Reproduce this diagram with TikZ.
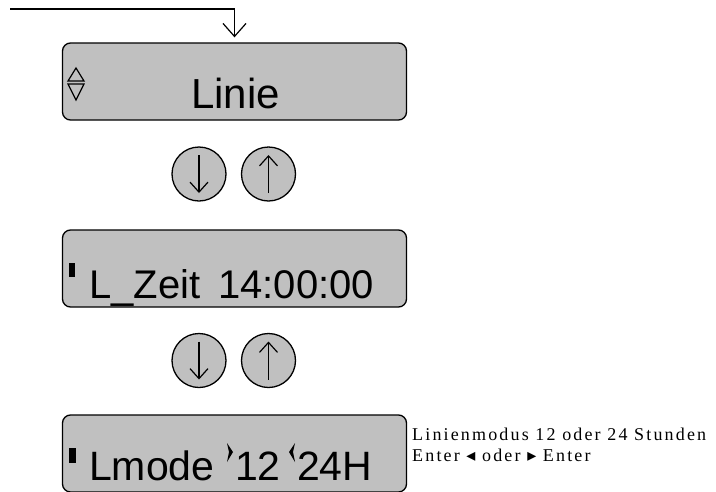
\documentclass[tikz,border=0pt]{standalone}
\usepackage{fontspec}
\setmainfont{Liberation Sans}
\newfontfamily\notefont[LetterSpace=12]{Liberation Serif}
\newfontfamily\symfont{DejaVu Sans}
\usetikzlibrary{arrows.meta}
\tikzset{
  display/.style={draw, line width=1.3pt, fill=lcdgray, rounded corners=8pt, minimum width=344pt, minimum height=77pt, inner sep=0pt},
  lcdtext/.style={anchor=base west, inner sep=0pt, font=\fontsize{41}{41}\selectfont},
  notetext/.style={anchor=base west, inner sep=0pt, font=\notefont\fontsize{18}{21}\selectfont},
  keybtn/.style={circle, draw, line width=1.3pt, fill=lcdgray, minimum size=54pt, inner sep=0pt},
  keyarrow/.style={line width=1.2pt, -{Straight Barb[length=10pt, width=18pt, line width=1.2pt]}},
  cursor/.style={fill=black, draw=none},
}
\definecolor{lcdgray}{RGB}{192,192,192}
\newcommand{\tri}[1]{{\symfont\fontsize{18}{18}\selectfont #1}}
\begin{document}
\begin{tikzpicture}[x=1pt, y=-1pt]
\useasboundingbox (0,0) rectangle (716,491);
\def \dy{19}
% displays
\node (linie) at (234.5,81.5) [display] {};
\node (zeit) at (234.5,268.5) [display] {};
\node (lmode) at (234.5,453.5) [display] {};
% entry line
\coordinate (entry) at (10,9);
\draw[line width=1.2pt, -{Straight Barb[length=13pt, width=23pt, line width=1.2pt]}, shorten >=5pt] (entry) -| (linie.north);
% display texts
\node (tlinie) at (191,108) [lcdtext, font=\fontsize{42}{42}\selectfont] {Linie};
\draw[line width=1.2pt] (68,81) -- (76,68) -- (84,81) -- cycle;
\draw[line width=1.2pt] (68,84) -- (84,84) -- (76,100) -- cycle;
\node (tzeit) at (89,298) [lcdtext, font=\fontsize{40}{40}\selectfont] {L\_Zeit\hspace{18pt}14:00:00};
\fill[cursor] (69,263) rectangle (75,277);
\node (tmode) at (89,480) [lcdtext] {Lmode};
\fill[cursor] (69,448) rectangle (76,463);
\fill[cursor] (227,443) -- (233,452) -- (227,462) -- (229,452) -- cycle;
\node (t12) at (235,480) [lcdtext] {12};
\fill[cursor] (295,443) -- (289,452) -- (295,462) -- (293,452) -- cycle;
\node (t24) at (297,480) [lcdtext] {24H};
% keys
\node (down1) at (199,174) [keybtn] {};
\node (up1) at (268.5,174) [keybtn] {};
\node (down2) at (199,360.5) [keybtn] {};
\node (up2) at (268.5,360.5) [keybtn] {};
\foreach \k in {down1,down2}
  \draw[keyarrow] ([yshift=\dy pt]\k.center) -- ([yshift=-\dy pt]\k.center);
\foreach \k in {up1,up2}
  \draw[keyarrow] ([yshift=-\dy pt]\k.center) -- ([yshift=\dy pt]\k.center);
% note
\node (note1) at (412,440) [notetext] {Linienmodus 12 oder 24 Stunden};
\node (note2) at (412,461) [notetext] {Enter \tri{◂} oder \tri{▸} Enter};
\end{tikzpicture}
\end{document}
